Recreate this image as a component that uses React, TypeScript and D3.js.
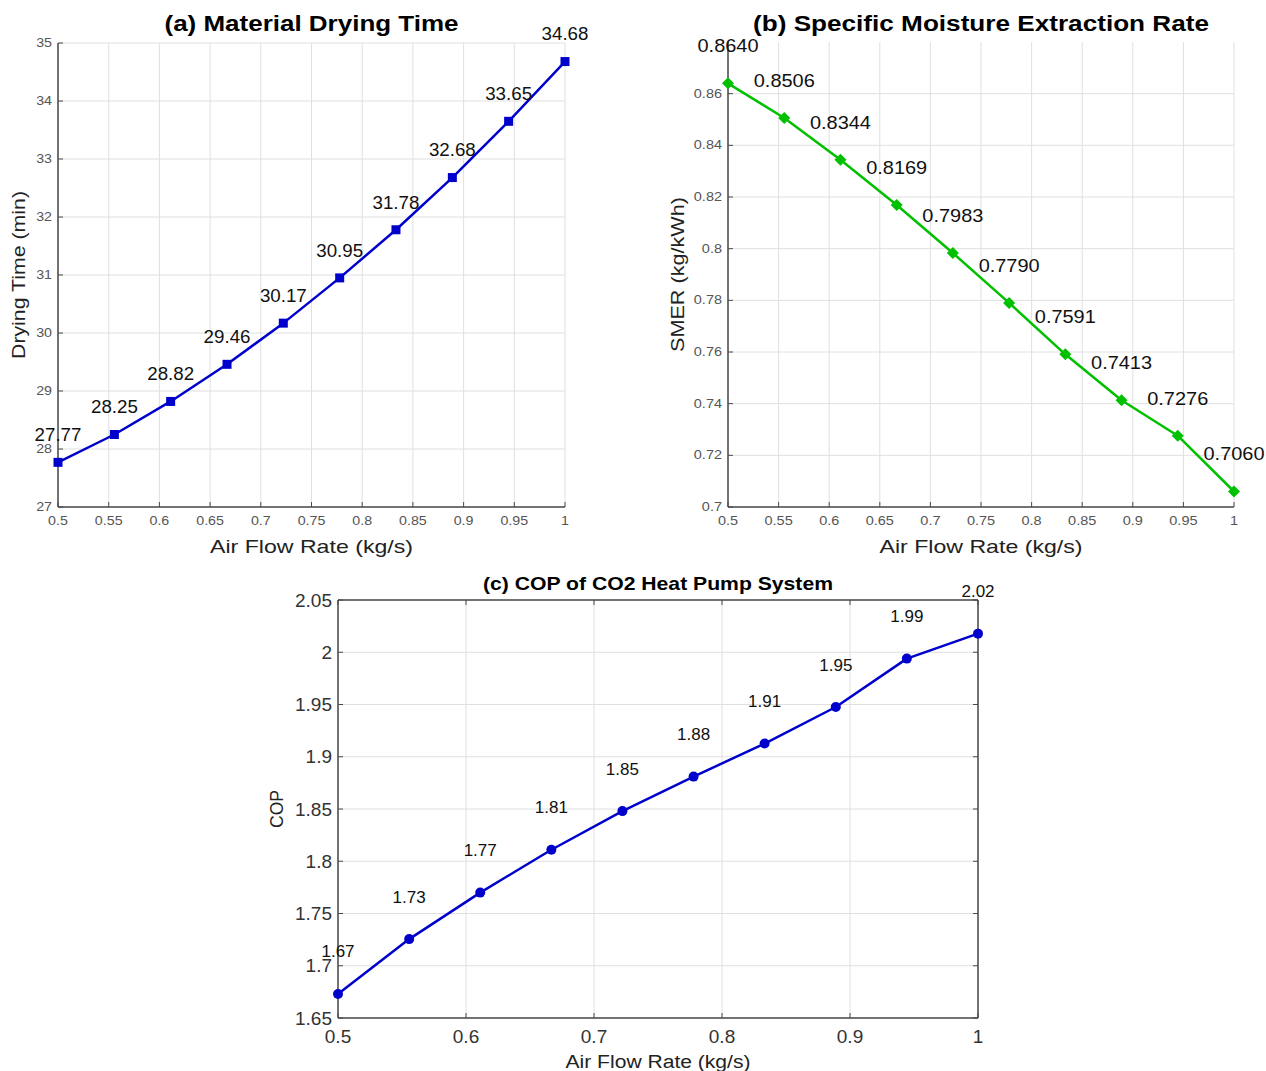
import React from "react";
import * as d3 from "d3";

const airFlow = [0.5, 0.5556, 0.6111, 0.6667, 0.7222, 0.7778, 0.8333, 0.8889, 0.9444, 1.0];
const dryingTime = [27.77, 28.25, 28.82, 29.46, 30.17, 30.95, 31.78, 32.68, 33.65, 34.68];
const dryingLabels = ["27.77", "28.25", "28.82", "29.46", "30.17", "30.95", "31.78", "32.68", "33.65", "34.68"];
const smer = [0.864, 0.8506, 0.8344, 0.8169, 0.7983, 0.779, 0.7591, 0.7413, 0.7276, 0.706];
const smerLabels = ["0.8640", "0.8506", "0.8344", "0.8169", "0.7983", "0.7790", "0.7591", "0.7413", "0.7276", "0.7060"];
const cop = [1.673, 1.7255, 1.77, 1.811, 1.848, 1.881, 1.9126, 1.9476, 1.9939, 2.0178];
const copLabels = ["1.67", "1.73", "1.77", "1.81", "1.85", "1.88", "1.91", "1.95", "1.99", "2.02"];

const xTicksFine = [0.5, 0.55, 0.6, 0.65, 0.7, 0.75, 0.8, 0.85, 0.9, 0.95, 1];
const xTicksCoarse = [0.5, 0.6, 0.7, 0.8, 0.9, 1];
const dryTicks = [27, 28, 29, 30, 31, 32, 33, 34, 35];
const smerTicks = [0.7, 0.72, 0.74, 0.76, 0.78, 0.8, 0.82, 0.84, 0.86];
const copTicks = [1.65, 1.7, 1.75, 1.8, 1.85, 1.9, 1.95, 2, 2.05];

const FONT = "'Liberation Sans', Arial, Helvetica, sans-serif";

type PanelProps = {
  left: number; right: number; top: number; bottom: number;
  yDomain: [number, number];
  xTicks: number[]; yTicks: number[];
  values: number[]; labels: string[];
  color: string; marker: "square" | "diamond" | "circle";
  title: string; titleSize: number; titleY: number; titleWidth: number;
  xLabel: string; xLabelY: number; xLabelSize: number; xLabelWidth: number;
  yLabel: string; yLabelX: number; yLabelSize: number; yLabelWidth: number;
  tickSize: number; tickColor: string; xTickY: number; tickStretch: number;
  labelSize: number; labelOffset: number; labelStretch: number;
  box: boolean;
};

function fmt(v: number) {
  return String(+v.toFixed(4));
}

function Panel(p: PanelProps) {
  const x = d3.scaleLinear().domain([0.5, 1]).range([p.left, p.right]);
  const y = d3.scaleLinear().domain(p.yDomain).range([p.bottom, p.top]);
  const line = d3.line<number>().x((_, i) => x(airFlow[i])).y((d) => y(d));
  const cx = (p.left + p.right) / 2;
  const cy = (p.top + p.bottom) / 2;
  const axisColor = "#4a4a4a";
  const gridColor = "#e0e0e0";
  const tl = 5;
  return (
    <g>
      {p.xTicks.map((t) => (
        <line key={"gx" + t} x1={x(t)} x2={x(t)} y1={p.top} y2={p.bottom} stroke={gridColor} strokeWidth={1} />
      ))}
      {p.yTicks.map((t) => (
        <line key={"gy" + t} x1={p.left} x2={p.right} y1={y(t)} y2={y(t)} stroke={gridColor} strokeWidth={1} />
      ))}
      <line x1={p.left} x2={p.left} y1={p.top} y2={p.bottom} stroke={axisColor} strokeWidth={1.5} />
      <line x1={p.left} x2={p.right} y1={p.bottom} y2={p.bottom} stroke={axisColor} strokeWidth={1.5} />
      {p.box && (
        <g>
          <line x1={p.right} x2={p.right} y1={p.top} y2={p.bottom} stroke={axisColor} strokeWidth={1.5} />
          <line x1={p.left} x2={p.right} y1={p.top} y2={p.top} stroke={axisColor} strokeWidth={1.5} />
        </g>
      )}
      {p.xTicks.map((t) => (
        <g key={"tx" + t}>
          <line x1={x(t)} x2={x(t)} y1={p.bottom} y2={p.bottom - tl} stroke={axisColor} strokeWidth={1} />
          {p.box && <line x1={x(t)} x2={x(t)} y1={p.top} y2={p.top + tl} stroke={axisColor} strokeWidth={1} />}
          <text transform={`translate(${x(t)},${p.xTickY}) scale(${p.tickStretch},1)`} textAnchor="middle" dominantBaseline="central" fontSize={p.tickSize} fill={p.tickColor} fontFamily={FONT}>
            {fmt(t)}
          </text>
        </g>
      ))}
      {p.yTicks.map((t) => (
        <g key={"ty" + t}>
          <line x1={p.left} x2={p.left + tl} y1={y(t)} y2={y(t)} stroke={axisColor} strokeWidth={1} />
          {p.box && <line x1={p.right} x2={p.right - tl} y1={y(t)} y2={y(t)} stroke={axisColor} strokeWidth={1} />}
          <text transform={`translate(${p.left - 6},${y(t)}) scale(${p.tickStretch},1)`} textAnchor="end" dominantBaseline="central" fontSize={p.tickSize} fill={p.tickColor} fontFamily={FONT}>
            {fmt(t)}
          </text>
        </g>
      ))}
      <path d={line(p.values) || ""} fill="none" stroke={p.color} strokeWidth={2.5} strokeLinejoin="round" />
      {p.values.map((v, i) => {
        const px = x(airFlow[i]);
        const py = y(v);
        if (p.marker === "square") return <rect key={"m" + i} x={px - 4.5} y={py - 4.5} width={9} height={9} fill={p.color} />;
        if (p.marker === "diamond")
          return <path key={"m" + i} d={`M${px},${py - 6}L${px + 6},${py}L${px},${py + 6}L${px - 6},${py}Z`} fill={p.color} />;
        return <circle key={"m" + i} cx={px} cy={py} r={5} fill={p.color} />;
      })}
      {p.values.map((v, i) => (
        <text key={"l" + i} transform={`translate(${x(airFlow[i])},${y(v) - p.labelOffset}) scale(${p.labelStretch},1)`} textAnchor="middle" dominantBaseline="central" fontSize={p.labelSize} fill="#111" fontFamily={FONT}>
          {p.labels[i]}
        </text>
      ))}
      <text x={cx} y={p.titleY} textAnchor="middle" dominantBaseline="central" fontSize={p.titleSize} fontWeight="bold" fill="#000" fontFamily={FONT} textLength={p.titleWidth} lengthAdjust="spacingAndGlyphs">
        {p.title}
      </text>
      <text x={cx} y={p.xLabelY} textAnchor="middle" dominantBaseline="central" fontSize={p.xLabelSize} fill="#222" fontFamily={FONT} textLength={p.xLabelWidth} lengthAdjust="spacingAndGlyphs">
        {p.xLabel}
      </text>
      <text transform={`translate(${p.yLabelX},${cy}) rotate(-90)`} textAnchor="middle" dominantBaseline="central" fontSize={p.yLabelSize} fill="#222" fontFamily={FONT} textLength={p.yLabelWidth} lengthAdjust="spacingAndGlyphs">
        {p.yLabel}
      </text>
    </g>
  );
}

export default function App() {
  return (
    <svg width={1266} height={1071} style={{ position: "absolute", left: 0, top: 0, background: "#fff" }}>
      <rect x={0} y={0} width={1266} height={1071} fill="#fff" />
      <Panel
        left={58} right={565} top={43} bottom={507}
        yDomain={[27, 35]} xTicks={xTicksFine} yTicks={dryTicks}
        values={dryingTime} labels={dryingLabels} color="#0000cc" marker="square"
        title="(a) Material Drying Time" titleSize={22} titleY={23} titleWidth={294}
        xLabel="Air Flow Rate (kg/s)" xLabelY={546} xLabelSize={19} xLabelWidth={203}
        yLabel="Drying Time (min)" yLabelX={18} yLabelSize={19} yLabelWidth={168}
        tickSize={12.5} tickColor="#555" xTickY={521} tickStretch={1.14}
        labelSize={17.5} labelOffset={27} labelStretch={1.07} box={false}
      />
      <Panel
        left={728} right={1234} top={42} bottom={507}
        yDomain={[0.7, 0.88]} xTicks={xTicksFine} yTicks={smerTicks}
        values={smer} labels={smerLabels} color="#00c000" marker="diamond"
        title="(b) Specific Moisture Extraction Rate" titleSize={22} titleY={23} titleWidth={456}
        xLabel="Air Flow Rate (kg/s)" xLabelY={546} xLabelSize={19} xLabelWidth={203}
        yLabel="SMER (kg/kWh)" yLabelX={677} yLabelSize={19} yLabelWidth={155}
        tickSize={12.5} tickColor="#555" xTickY={521} tickStretch={1.16}
        labelSize={19} labelOffset={38} labelStretch={1.05} box={false}
      />
      <Panel
        left={338} right={978} top={600} bottom={1018}
        yDomain={[1.65, 2.05]} xTicks={xTicksCoarse} yTicks={copTicks}
        values={cop} labels={copLabels} color="#0000cc" marker="circle"
        title="(c) COP of CO2 Heat Pump System" titleSize={19} titleY={583} titleWidth={350}
        xLabel="Air Flow Rate (kg/s)" xLabelY={1062} xLabelSize={18} xLabelWidth={185}
        yLabel="COP" yLabelX={277} yLabelSize={18} yLabelWidth={38}
        tickSize={19} tickColor="#333" xTickY={1036} tickStretch={1}
        labelSize={17} labelOffset={42} labelStretch={1} box={true}
      />
    </svg>
  );
}
